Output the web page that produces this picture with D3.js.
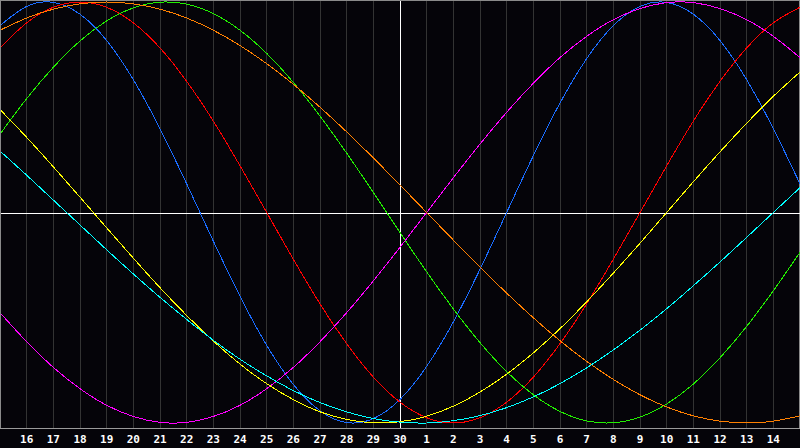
<!DOCTYPE html>
<html>
<head>
<meta charset="utf-8">
<script src="https://cdn.jsdelivr.net/npm/d3@7"></script>
<style>
  html, body { margin: 0; padding: 0; background: #000; }
  svg { display: block; }
  .day-label { font-family: "DejaVu Sans Mono", monospace; font-weight: bold; font-size: 11px; fill: #fff; }
</style>
</head>
<body>
<div id="chart"></div>
<script>
// day labels along the bottom, first and last entries are the clipped edge days
var days = [15, 16, 17, 18, 19, 20, 21, 22, 23, 24, 25, 26, 27, 28, 29, 30,
            1, 2, 3, 4, 5, 6, 7, 8, 9, 10, 11, 12, 13, 14, 15];
var centerDay = 15; // index of "30"

// values per day (-1 .. 1)
var physical = [0.888, 0.979, 0.998, 0.942, 0.817, 0.631, 0.398, 0.136, -0.136, -0.398,
                -0.631, -0.817, -0.942, -0.998, -0.979, -0.888, -0.731, -0.520, -0.270, 0,
                0.270, 0.520, 0.731, 0.888, 0.979, 0.998, 0.942, 0.817, 0.631, 0.398, 0.136];
var emotional = [0.782, 0.901, 0.975, 1.0, 0.975, 0.901, 0.782, 0.623, 0.434, 0.222,
                 0, -0.222, -0.434, -0.623, -0.782, -0.901, -0.975, -1.0, -0.975, -0.901,
                 -0.782, -0.623, -0.434, -0.222, 0, 0.222, 0.434, 0.623, 0.782, 0.901, 0.975];
var intellectual = [0.372, 0.541, 0.690, 0.815, 0.910, 0.972, 0.999, 0.990, 0.945, 0.866,
                    0.756, 0.618, 0.458, 0.282, 0.095, -0.095, -0.282, -0.458, -0.618, -0.756,
                    -0.866, -0.945, -0.990, -0.999, -0.972, -0.910, -0.815, -0.690, -0.541, -0.372, -0.189];
var intuitive = [-0.476, -0.614, -0.736, -0.837, -0.916, -0.969, -0.997, -0.997, -0.969, -0.916,
                 -0.837, -0.736, -0.614, -0.476, -0.325, -0.165, 0, 0.165, 0.325, 0.476,
                 0.614, 0.736, 0.837, 0.916, 0.969, 0.997, 0.997, 0.969, 0.916, 0.837, 0.736];
var aesthetic = [0.489, 0.357, 0.217, 0.073, -0.073, -0.217, -0.357, -0.489, -0.611, -0.720,
                 -0.813, -0.889, -0.947, -0.983, -0.999, -0.994, -0.968, -0.920, -0.853, -0.768,
                 -0.667, -0.552, -0.424, -0.288, -0.146, 0, 0.146, 0.288, 0.424, 0.552, 0.667];
var awareness = [0.866, 0.924, 0.966, 0.991, 1.0, 0.991, 0.966, 0.924, 0.866, 0.793,
                 0.707, 0.609, 0.5, 0.383, 0.259, 0.131, 0, -0.131, -0.259, -0.383,
                 -0.5, -0.609, -0.707, -0.793, -0.866, -0.924, -0.966, -0.991, -1.0, -0.991, -0.966];
var spiritual = [0.292, 0.177, 0.059, -0.059, -0.177, -0.292, -0.403, -0.508, -0.607, -0.697,
                 -0.776, -0.846, -0.903, -0.947, -0.979, -0.996, -1.0, -0.989, -0.965, -0.927,
                 -0.876, -0.813, -0.738, -0.653, -0.559, -0.457, -0.348, -0.235, -0.118, 0, 0.118];

var series = [
    { values: physical, color: "#1a6cff" },
    { values: emotional, color: "#ff0000" },
    { values: intellectual, color: "#22ee00" },
    { values: intuitive, color: "#ff00ff" },
    { values: aesthetic, color: "#ffff00" },
    { values: awareness, color: "#ff8000" },
    { values: spiritual, color: "#00ffff" }
];

function init() {
    var w = 800;
    var h = 448;
    var plotBottom = 428;

    var xScale = d3.scalePoint()
        .domain(d3.range(days.length))
        .range([0, w]);

    var yScale = d3.scaleLinear()
        .domain([-1, 1])
        .range([423, 2]);

    var svg = d3.select("#chart")
        .append("svg")
        .attr("width", w)
        .attr("height", h)
        .style("shape-rendering", "crispEdges");

    svg.append("rect")
        .attr("width", w)
        .attr("height", h)
        .attr("fill", "#050409");

    svg.append("clipPath")
        .attr("id", "plot-clip")
        .append("rect")
        .attr("x", 1)
        .attr("y", 1)
        .attr("width", w - 1)
        .attr("height", plotBottom - 1);

    // day grid
    var tickIdx = d3.range(1, days.length - 1);
    svg.selectAll(".grid")
        .data(tickIdx)
        .enter()
        .append("line")
        .attr("class", "grid")
        .attr("x1", function (d) { return Math.floor(xScale(d)) + 0.5; })
        .attr("x2", function (d) { return Math.floor(xScale(d)) + 0.5; })
        .attr("y1", 1)
        .attr("y2", plotBottom)
        .attr("stroke", "#333333")
        .attr("stroke-width", 1);

    // frame
    svg.append("line")
        .attr("x1", 0).attr("x2", w)
        .attr("y1", 0.5).attr("y2", 0.5)
        .attr("stroke", "#8a8a8a");
    svg.append("line")
        .attr("x1", 0.5).attr("x2", 0.5)
        .attr("y1", 0).attr("y2", plotBottom)
        .attr("stroke", "#8a8a8a");
    svg.append("line")
        .attr("x1", w - 0.5).attr("x2", w - 0.5)
        .attr("y1", 0).attr("y2", plotBottom)
        .attr("stroke", "#8a8a8a");
    svg.append("line")
        .attr("x1", 0).attr("x2", w)
        .attr("y1", plotBottom + 0.5).attr("y2", plotBottom + 0.5)
        .attr("stroke", "#9a9a9a");

    // today cross
    var cx = Math.floor(xScale(centerDay)) + 0.5;
    var cy = Math.round(yScale(0)) + 0.5;
    svg.append("line")
        .attr("x1", 1).attr("x2", w)
        .attr("y1", cy).attr("y2", cy)
        .attr("stroke", "#ffffff");
    svg.append("line")
        .attr("x1", cx).attr("x2", cx)
        .attr("y1", 1).attr("y2", plotBottom)
        .attr("stroke", "#ffffff");

    var line = d3.line()
        .x(function (d, i) { return xScale(i); })
        .y(function (d) { return yScale(d); })
        .curve(d3.curveNatural);

    svg.append("g")
        .attr("clip-path", "url(#plot-clip)")
        .selectAll("path")
        .data(series)
        .enter()
        .append("path")
        .attr("d", function (d) { return line(d.values); })
        .attr("fill", "none")
        .attr("stroke", function (d) { return d.color; })
        .attr("stroke-width", 1);

    // day labels
    svg.selectAll(".day-label")
        .data(tickIdx)
        .enter()
        .append("text")
        .attr("class", "day-label")
        .attr("x", function (d) { return xScale(d); })
        .attr("y", 443)
        .attr("text-anchor", "middle")
        .text(function (d) { return days[d]; });
}

window.onload = init;
</script>
</body>
</html>
